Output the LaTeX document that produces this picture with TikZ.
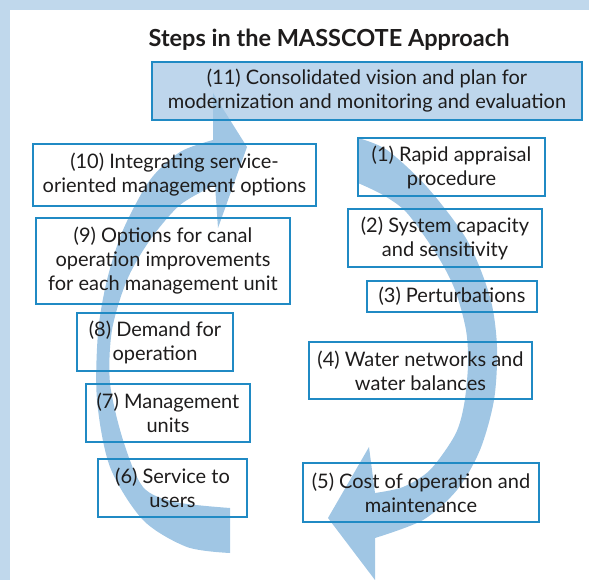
\documentclass[tikz,border=0pt]{standalone}
\usepackage{fontspec}
\setmainfont{Lato}
\definecolor{framebg}{RGB}{192,216,236}
\definecolor{planfill}{RGB}{190,214,236}
\definecolor{cyclefill}{RGB}{160,198,228}
\definecolor{boxline}{RGB}{32,138,196}
\definecolor{inktext}{RGB}{30,28,28}
\pgfdeclarelayer{bottom}
\pgfdeclarelayer{arrows}
\pgfsetlayers{bottom,arrows,main}
\tikzset{
  stepbox/.style={draw=boxline, line width=1.5pt, align=center, inner sep=0pt,
    text=inktext, font=\fontsize{20}{24}\selectfont},
  cyclearrow/.style={fill=cyclefill},
}
\begin{document}
\begin{tikzpicture}[x=1pt,y=-1pt]
    \useasboundingbox (0,0) rectangle (589,580);
    \fill [framebg] (0,0) rectangle (589,10);
    \fill [framebg] (0,0) rectangle (10,580);
    \node [text=inktext] (title) at (329,40) {\fontsize{23.5}{26}\selectfont\bfseries Steps in the MASSCOTE Approach};
    % the plan on top
    \node [stepbox, minimum width=430pt, minimum height=58pt] (s11) at (367,91) {(11) Consolidated vision and plan for\\modernization and monitoring and evaluation};
    % left column
    \node [stepbox, minimum width=283pt, minimum height=62pt] (s10) at (174.5,175) {(10) Integrating service-\\oriented management options};
    \node [stepbox, minimum width=254pt, minimum height=86pt] (s9) at (163,261) {(9) Options for canal\\operation improvements\\for each management unit};
    \node [stepbox, minimum width=156pt, minimum height=58pt] (s8) at (155,342) {(8) Demand for\\operation};
    \node [stepbox, minimum width=164pt, minimum height=58pt] (s7) at (168,413) {(7) Management\\units};
    \node [stepbox, minimum width=149pt, minimum height=58pt] (s6) at (172.5,488) {(6) Service to\\users};
    % right column
    \node [stepbox, minimum width=187pt, minimum height=58pt] (s1) at (451.5,167) {(1) Rapid appraisal\\procedure};
    \node [stepbox, minimum width=194pt, minimum height=58pt] (s2) at (445,238) {(2) System capacity\\and sensitivity};
    \node [stepbox, minimum width=170pt, minimum height=31pt] (s3) at (452,296.5) {(3) Perturbations};
    \node [stepbox, minimum width=223pt, minimum height=57pt] (s4) at (420.5,370.5) {(4) Water networks and\\water balances};
    \node [stepbox, minimum width=236pt, minimum height=59pt] (s5) at (421,492.5) {(5) Cost of operation and\\maintenance};
    \begin{pgfonlayer}{bottom}
        \fill [planfill] (s11.south west) rectangle (s11.north east);
    \end{pgfonlayer}
    \begin{pgfonlayer}{arrows}
        % down the right side
        \fill [cyclearrow] plot [smooth] coordinates {(358,138) (387,150) (427,187) (467,240) (490,297) (497,347) (494,400) (480,450) (457,490) (423,520) (375,538)}
            -- (375,580) -- (328,518) -- (369,447) -- (375,493)
            -- plot [smooth] coordinates {(375,493) (403,487) (430,470) (455,435) (464,405) (468,365) (466,330) (455,290) (437,255) (407,213) (383,195) (358,183)} -- cycle;
        % up the left side
        \fill [cyclearrow] plot [smooth] coordinates {(213,140) (180,152) (150,180) (123,230) (107,280) (98,333) (97,400) (110,467) (143,520) (187,547) (230,553)}
            -- (230,508)
            -- plot [smooth] coordinates {(230,508) (175,502) (143,487) (123,440) (110,383) (112,330) (127,280) (150,240) (180,205) (215,185)}
            -- (218,228) -- (247,147) -- (213,93) -- cycle;
    \end{pgfonlayer}
\end{tikzpicture}
\end{document}
